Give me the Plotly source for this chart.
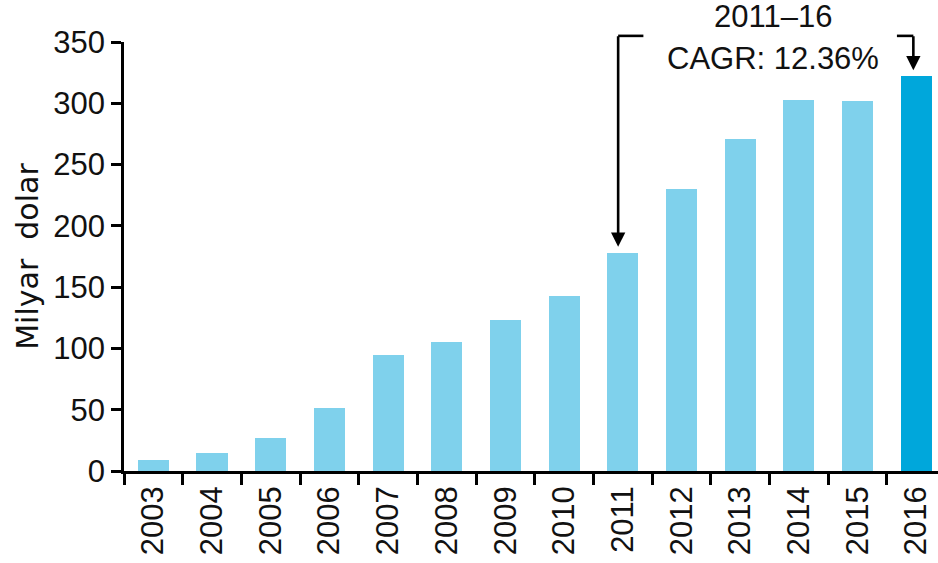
import plotly.graph_objects as go

# Annual values, billion dollars
years = ["2003", "2004", "2005", "2006", "2007", "2008", "2009",
         "2010", "2011", "2012", "2013", "2014", "2015", "2016"]
values = [9, 15, 27, 51, 95, 105, 123, 143, 178, 230, 271, 303, 302, 322]

LIGHT = "#7fd1ec"
DARK = "#00a7db"
bar_colors = [DARK if y == "2016" else LIGHT for y in years]

cagr_start, cagr_end = "2011", "2016"
cagr_lines = ["2011\u201316", "CAGR: 12.36%"]

TXT = "#111111"
FONT = "Liberation Sans, Arial"
Y_MAX = 350

fig = go.Figure(go.Bar(
    x=years,
    y=values,
    width=0.53,
    marker=dict(color=bar_colors, line=dict(width=0)),
))

i0 = years.index(cagr_start)
i1 = years.index(cagr_end)
top_y = 355  # bracket height in data units
lw = 2.6

# bracket: horizontal stubs at the top
fig.add_shape(type="line", xref="x", yref="paper", x0=i0 - 0.08, x1=i0 + 0.35,
              y0=top_y / Y_MAX, y1=top_y / Y_MAX, line=dict(color="black", width=lw))
fig.add_shape(type="line", xref="x", yref="paper", x0=i1 - 0.33, x1=i1 - 0.05,
              y0=top_y / Y_MAX, y1=top_y / Y_MAX, line=dict(color="black", width=lw))

# downward arrows to the two bars
for xi, v in [(i0 - 0.08, values[i0]), (i1 - 0.05, values[i1])]:
    fig.add_annotation(x=xi, y=v + 5, xref="x", yref="y",
                       ax=xi, ay=top_y + 1, axref="x", ayref="y",
                       text="", showarrow=True, arrowhead=2, arrowsize=1.1,
                       arrowwidth=lw, arrowcolor="black")

# CAGR label, two lines centred over the bracket
for text, ly in zip(cagr_lines, [370.5, 336.5]):
    fig.add_annotation(x=(i0 + i1) / 2 + 0.06, y=ly / Y_MAX, xref="x", yref="paper",
                       text=text, showarrow=False, yanchor="middle",
                       font=dict(family=FONT, size=31, color=TXT))

fig.update_layout(
    width=938, height=563,
    margin=dict(l=124, r=0, t=42, b=92),
    plot_bgcolor="white", paper_bgcolor="white",
    showlegend=False,
    bargap=0,
)
fig.update_traces(cliponaxis=False)

fig.update_xaxes(
    type="category",
    range=[-0.5, 13.37],
    tickson="boundaries",
    tickangle=-90, tickfont=dict(family=FONT, size=31, color=TXT),
    showline=True, linecolor="black", linewidth=lw,
    ticks="outside", ticklen=11, tickwidth=lw, tickcolor="black",
    showgrid=False, zeroline=False,
)
fig.update_yaxes(
    range=[0, Y_MAX],
    tickmode="array", tickvals=[0, 50, 100, 150, 200, 250, 300, 350],
    tickfont=dict(family=FONT, size=31, color=TXT),
    showline=True, linecolor="black", linewidth=lw,
    ticks="outside", ticklen=10, tickwidth=lw, tickcolor="black",
    showgrid=False, zeroline=False,
    title=dict(text="Milyar  dolar", standoff=6,
               font=dict(family="DejaVu Sans", size=30, color=TXT)),
)

fig.write_html("out.html")
